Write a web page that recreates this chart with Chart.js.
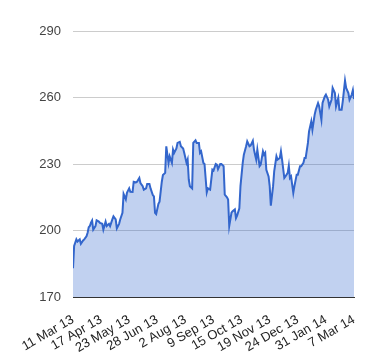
<!DOCTYPE html>
<html>
<head>
<meta charset="utf-8">
<script src="https://cdn.jsdelivr.net/npm/chart.js@4"></script>
<style>
  html, body { margin: 0; padding: 0; background: #fff; }
  #wrap { width: 380px; height: 360px; }
</style>
</head>
<body>
<div id="wrap"><canvas id="chartPrecio" width="380" height="360"></canvas></div>
<script>
// etiquetas del eje x (cada 25 sesiones)
const etiquetas = ['11 Mar 13', '17 Apr 13', '23 May 13', '28 Jun 13', '2 Aug 13', '9 Sep 13',
  '15 Oct 13', '19 Nov 13', '24 Dec 13', '31 Jan 14', '7 Mar 14'];

// sesión (índice de día hábil) y precio de cierre
const dias = [0, 1, 3, 4, 6, 7, 9, 10, 12, 13, 14, 15, 16, 17, 18, 20, 21, 23, 24, 26,
  27, 29, 30, 32, 33, 35, 36, 38, 39, 41, 42, 44, 45, 47, 48, 50, 51, 53, 54, 56,
  57, 59, 60, 62, 63, 65, 66, 68, 69, 71, 72, 73, 74, 76, 77, 79, 80, 82, 83, 85,
  86, 88, 89, 90, 92, 93, 95, 96, 98, 99, 101, 102, 103, 104, 106, 107, 109, 110, 112, 113,
  114, 116, 117, 119, 120, 122, 124, 125, 127, 128, 129, 131, 132, 134, 135, 137, 138, 139, 141, 142,
  144, 145, 146, 148, 149, 151, 152, 154, 155, 157, 158, 160, 161, 162, 163, 164, 166, 167, 169, 170,
  171, 172, 174, 175, 176, 178, 179, 181, 182, 184, 185, 186, 188, 189, 191, 192, 193, 194, 196, 197,
  199, 200, 202, 203, 205, 206, 207, 209, 210, 212, 213, 215, 216, 218, 219, 221, 222, 224, 225, 227,
  228, 230, 231, 233, 234, 236, 237, 239, 240, 242, 243, 245, 246, 248, 249, 250];
const precios = [183, 193, 196, 195, 196, 194, 195.5, 196, 197.4, 199, 201.5, 202, 203.5, 204.5, 200.4, 202, 204.6, 204, 203.4, 203,
  200.4, 204, 202, 203, 202, 205, 206.4, 205, 201, 203, 205, 208, 216.5, 214, 217, 219, 217.5, 217.4, 222, 221.7,
  222, 223.7, 221.4, 220, 218.4, 219, 221, 221, 219, 216, 215.4, 208, 207.4, 212, 213, 222, 225, 226, 238, 230.5,
  233.5, 230.5, 236.5, 235, 237, 239.5, 240, 238, 237, 235, 230.5, 232, 223, 220, 219, 239.5, 240.7, 239.5, 239.5, 235,
  235.7, 230.5, 230, 217.2, 219, 218.4, 227.4, 227, 230, 229.7, 227.7, 230, 230, 229, 216.2, 215, 214, 202, 208, 208.7,
  209.5, 205.6, 206.7, 210, 220, 230.5, 234.2, 238, 240.2, 238, 238.3, 240.5, 236.5, 234.2, 232, 236.5, 229, 229.7, 235.7, 234.2,
  235, 227.4, 224.4, 220, 211.2, 220, 226.7, 233.5, 232, 232.7, 235.7, 232, 223.7, 224.4, 226, 229.2, 223.7, 224.4, 217, 220,
  225.2, 225.2, 229, 229, 230.5, 232.7, 232.7, 239.5, 244.7, 249.2, 245.5, 252.3, 254.5, 257.5, 256, 250, 257.5, 260.5, 261.3, 259,
  256, 259, 264.3, 262, 256, 259.8, 254.5, 254.5, 258.3, 267.6, 264.3, 262, 259, 261.3, 263.3, 259.3];

// ticks del eje y
const ticksY = [170, 200, 230, 260, 290];

window.inicializarGrafico = function() {
  const canvas = document.getElementById('chartPrecio');
  if (!canvas || typeof Chart === 'undefined') return;

  const puntos = dias.map((d, i) => ({ x: d, y: precios[i] }));

  try {
    window._chartPrecio = new Chart(canvas, {
      type: 'line',
      data: {
        datasets: [{
          data: puntos,
          borderColor: '#3366cc',
          borderWidth: 2,
          backgroundColor: 'rgba(51,102,204,0.3)',
          fill: 'start',
          pointRadius: 0,
          tension: 0
        }]
      },
      options: {
        responsive: false,
        animation: false,
        layout: { padding: { left: 0, right: 26, top: 31, bottom: 0 } },
        plugins: {
          legend: { display: false },
          tooltip: { enabled: false }
        },
        scales: {
          x: {
            type: 'linear',
            min: 0,
            max: 250,
            afterFit: s => { s.height = 63; },
            afterBuildTicks: s => { s.ticks = etiquetas.map((_, i) => ({ value: i * 25 })); },
            grid: { display: false },
            border: { display: true, color: '#333', width: 1 },
            ticks: {
              autoSkip: false,
              minRotation: 30,
              maxRotation: 30,
              padding: 7,
              color: '#222',
              font: { family: 'Liberation Sans', size: 13 },
              callback: v => etiquetas[Math.round(v / 25)]
            }
          },
          y: {
            min: ticksY[0],
            max: ticksY[ticksY.length - 1],
            afterFit: s => { s.width = 73; },
            afterBuildTicks: s => { s.ticks = ticksY.map(v => ({ value: v })); },
            grid: { color: '#ccc', drawTicks: false },
            border: { display: false },
            ticks: {
              padding: 12,
              color: '#444',
              font: { family: 'Liberation Sans', size: 13 }
            }
          }
        }
      }
    });
  } catch (e) {
    console.error('Error creando gráfico:', e);
  }
};

window.inicializarGrafico();
</script>
</body>
</html>
